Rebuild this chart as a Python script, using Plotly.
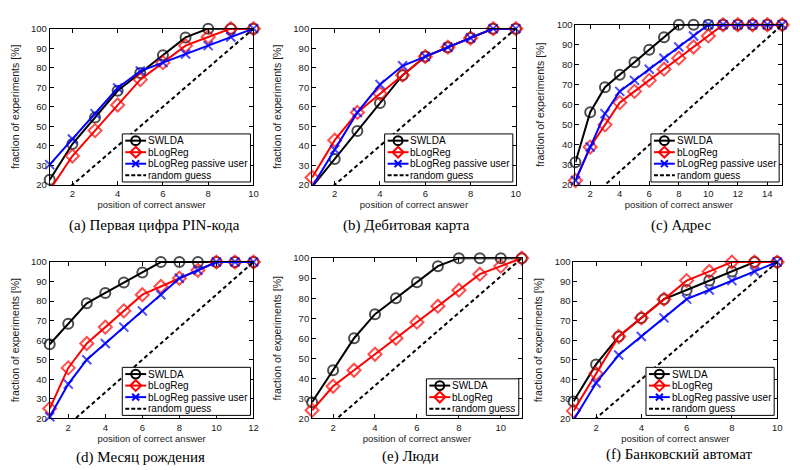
import plotly.graph_objects as go

# ---------------- data ----------------
# (a) Первая цифра PIN-кода
a_x = [1, 2, 3, 4, 5, 6, 7, 8, 9, 10]
a_swlda = [22.7, 40.9, 54.5, 68.2, 77.3, 86.4, 95.5, 100, 100, 100]
a_blogreg = [17.4, 34.8, 47.8, 60.9, 73.9, 82.6, 91.3, 95.7, 100, 100]
a_passive = [30.4, 43.5, 56.5, 69.6, 78.3, 82.6, 87.0, 91.3, 95.7, 100]
a_rand_x = [1, 10]
a_rand_y = [10, 100]

# (b) Дебитовая карта
b_x = [1, 2, 3, 4, 5, 6, 7, 8, 9, 10]
b_swlda = [19.0, 33.3, 47.6, 61.9, 76.2, 85.7, 90.5, 95.2, 100, 100]
b_blogreg = [23.8, 42.9, 57.1, 66.7, 76.2, 85.7, 90.5, 95.2, 100, 100]
b_passive = [19.0, 38.1, 57.1, 71.4, 81.0, 85.7, 90.5, 95.2, 100, 100]
b_rand_x = [1, 10]
b_rand_y = [10, 100]

# (c) Адрес
c_x = [1, 2, 3, 4, 5, 6, 7, 8, 9, 10, 11, 12, 13, 14, 15]
c_swlda = [31.3, 56.3, 68.8, 75.0, 81.3, 87.5, 93.8, 100, 100, 100, 100, 100, 100, 100, 100]
c_blogreg = [22.2, 38.9, 50.0, 61.1, 66.7, 72.2, 77.8, 83.3, 88.9, 94.4, 100, 100, 100, 100, 100]
c_passive = [22.2, 38.9, 55.6, 66.7, 72.2, 77.8, 83.3, 88.9, 94.4, 100, 100, 100, 100, 100, 100]
c_rand_x = [1, 15]
c_rand_y = [6.67, 100]

# (d) Месяц рождения
d_x = [1, 2, 3, 4, 5, 6, 7, 8, 9, 10, 11, 12]
d_swlda = [57.9, 68.4, 78.9, 84.2, 89.5, 94.7, 100, 100, 100, 100, 100, 100]
d_blogreg = [25.0, 45.8, 58.3, 66.7, 75.0, 83.3, 87.5, 91.7, 95.8, 100, 100, 100]
d_passive = [20.8, 37.5, 50.0, 58.3, 66.7, 75.0, 83.3, 91.7, 95.8, 100, 100, 100]
d_rand_x = [1, 12]
d_rand_y = [8.33, 100]

# (e) Люди
e_x = [1, 2, 3, 4, 5, 6, 7, 8, 9, 10, 11]
e_swlda = [28, 44, 60, 72, 80, 88, 96, 100, 100, 100, 100]
e_blogreg = [24, 36, 44, 52, 60, 68, 76, 84, 92, 96, 100]
e_rand_x = [1, 11]
e_rand_y = [9.09, 100]

# (f) Банковский автомат
f_x = [1, 2, 3, 4, 5, 6, 7, 8, 9, 10]
f_swlda = [28.6, 47.6, 61.9, 71.4, 81.0, 85.7, 90.5, 95.2, 100, 100]
f_blogreg = [23.8, 42.9, 61.9, 71.4, 81.0, 90.5, 95.2, 100, 100, 100]
f_passive = [19.0, 38.1, 52.4, 61.9, 71.4, 81.0, 85.7, 90.5, 95.2, 100]
f_rand_x = [1, 10]
f_rand_y = [10, 100]

captions = ["(a) Первая цифра PIN-кода", "(b) Дебитовая карта", "(c) Адрес",
            "(d) Месяц рождения", "(e) Люди", "(f) Банковский автомат"]
y_ticks = [20, 30, 40, 50, 60, 70, 80, 90, 100]
names = ["SWLDA", "bLogReg", "bLogReg passive user", "random guess"]

# ---------------- layout (pixel boxes of each panel) ----------------
W, H = 800, 470
# left, right, top, bottom in pixels
boxes = [(42, 247, 15, 175), (306, 511, 15, 175), (571, 779, 11, 175),
         (42, 247, 254, 414), (306, 517, 250, 414), (569, 774, 254, 414)]
cap_pos = [(147, 217), (401, 217), (677, 217), (133, 454), (405, 453), (675, 451)]

panels = [
    (a_x, a_swlda, a_blogreg, a_passive, a_rand_x, a_rand_y),
    (b_x, b_swlda, b_blogreg, b_passive, b_rand_x, b_rand_y),
    (c_x, c_swlda, c_blogreg, c_passive, c_rand_x, c_rand_y),
    (d_x, d_swlda, d_blogreg, d_passive, d_rand_x, d_rand_y),
    (e_x, e_swlda, e_blogreg, None, e_rand_x, e_rand_y),
    (f_x, f_swlda, f_blogreg, f_passive, f_rand_x, f_rand_y),
]

FONT = "Liberation Sans, Arial, sans-serif"
SERIF = "Liberation Serif, Times New Roman, serif"
BLACK, RED, BLUE = "#000000", "#ff0000", "#0000ff"

fig = go.Figure()
layout = dict(width=W, height=H, margin=dict(l=0, r=0, t=0, b=0),
              paper_bgcolor="white", plot_bgcolor="white", showlegend=False,
              font=dict(family=FONT, color="#1a1a1a"))
annotations = []
shapes = []


def px(xp):
    return xp / W


def py(yp):
    return 1 - yp / H


def sizes(vals, s):
    return [s if v >= 20 else 0 for v in vals]


def legend_box(l_ax, r_ax, b_ax, entries):
    """Compact MATLAB-style legend in the lower-right corner of a panel."""
    item_h = 11.8
    text_w = 104 if any(e[0] == names[2] for e in entries) else 68
    box_r = r_ax - 3
    box_b = b_ax - 3
    box_l = box_r - (25 + text_w)
    box_t = box_b - (len(entries) * item_h + 2)
    shapes.append(dict(type="rect", xref="paper", yref="paper",
                       x0=px(box_l), x1=px(box_r), y0=py(box_b), y1=py(box_t),
                       fillcolor="white", line=dict(color="black", width=1), layer="above"))
    for j, (name, color, symbol, dash) in enumerate(entries):
        yc = box_t + 1 + item_h * (j + 0.5)
        x0, x1 = box_l + 3, box_l + 24
        xc = (x0 + x1) / 2
        shapes.append(dict(type="line", xref="paper", yref="paper",
                           x0=px(x0), x1=px(x1), y0=py(yc), y1=py(yc),
                           line=dict(color=color, width=2, dash=dash), layer="above"))
        if symbol == "circle":
            rr = 4.5
            shapes.append(dict(type="circle", xref="paper", yref="paper",
                               x0=px(xc - rr), x1=px(xc + rr), y0=py(yc + rr), y1=py(yc - rr),
                               line=dict(color=color, width=2), layer="above"))
        elif symbol == "diamond":
            rr = 5.5
            path = "M{},{} L{},{} L{},{} L{},{} Z".format(
                px(xc), py(yc - rr), px(xc + rr), py(yc), px(xc), py(yc + rr), px(xc - rr), py(yc))
            shapes.append(dict(type="path", xref="paper", yref="paper", path=path,
                               line=dict(color=color, width=2), layer="above"))
        elif symbol == "x":
            rr = 3.5
            path = "M{},{} L{},{} M{},{} L{},{}".format(
                px(xc - rr), py(yc - rr), px(xc + rr), py(yc + rr),
                px(xc - rr), py(yc + rr), px(xc + rr), py(yc - rr))
            shapes.append(dict(type="path", xref="paper", yref="paper", path=path,
                               line=dict(color=color, width=2), layer="above"))
        annotations.append(dict(text=name, x=px(box_l + 24), y=py(yc), xref="paper", yref="paper",
                                xanchor="left", yanchor="middle", showarrow=False,
                                font=dict(family=FONT, size=10, color="black")))


for i, (xs, sw, bl, pa, rx, ry) in enumerate(panels):
    k = i + 1
    sfx = "" if k == 1 else str(k)
    xa, ya = "x" + sfx, "y" + sfx
    common = dict(xaxis=xa, yaxis=ya, mode="lines+markers", cliponaxis=False)
    entries = []
    fig.add_trace(go.Scatter(x=xs, y=sw, name=names[0],
                             line=dict(color=BLACK, width=2),
                             marker=dict(symbol="circle-open", size=sizes(sw, 10), color=BLACK,
                                         line=dict(width=2, color=BLACK)), **common))
    entries.append((names[0], BLACK, "circle", "solid"))
    fig.add_trace(go.Scatter(x=xs, y=bl, name=names[1],
                             line=dict(color=RED, width=2),
                             marker=dict(symbol="diamond-open", size=sizes(bl, 10), color=RED,
                                         line=dict(width=2, color=RED)), **common))
    entries.append((names[1], RED, "diamond", "solid"))
    if pa is not None:
        fig.add_trace(go.Scatter(x=xs, y=pa, name=names[2],
                                 line=dict(color=BLUE, width=2),
                                 marker=dict(symbol="x-thin-open", size=sizes(pa, 9), color=BLUE,
                                             line=dict(width=2, color=BLUE)), **common))
        entries.append((names[2], BLUE, "x", "solid"))
    fig.add_trace(go.Scatter(x=rx, y=ry, name=names[3], xaxis=xa, yaxis=ya,
                             mode="lines", line=dict(color=BLACK, width=2, dash="4px,3px")))
    entries.append((names[3], BLACK, None, "4px,2px"))

    l, r, t, b = boxes[i]
    nmax = xs[-1]
    layout["xaxis" + sfx] = dict(
        domain=[l / W, r / W], anchor=ya, range=[1, nmax],
        tickvals=[v for v in xs if v % 2 == 0],
        showline=True, linecolor="black", linewidth=1, mirror="ticks",
        ticks="inside", ticklen=4, tickcolor="black", showgrid=False, zeroline=False,
        tickfont=dict(size=9.5),
        title=dict(text="position of correct answer", font=dict(size=9.5), standoff=1))
    layout["yaxis" + sfx] = dict(
        domain=[1 - b / H, 1 - t / H], anchor=xa, range=[20, 100],
        tickvals=y_ticks,
        showline=True, linecolor="black", linewidth=1, mirror="ticks",
        ticks="inside", ticklen=4, tickcolor="black", showgrid=False, zeroline=False,
        tickfont=dict(size=9.5),
        title=dict(text="fraction of experiments [%]", font=dict(size=10.5), standoff=9))
    legend_box(l, r, b, entries)
    cx, cy = cap_pos[i]
    annotations.append(dict(text=captions[i], x=px(cx), y=py(cy), xref="paper", yref="paper",
                            xanchor="center", yanchor="middle", showarrow=False,
                            font=dict(family=SERIF, size=15, color="black")))

layout["annotations"] = annotations
layout["shapes"] = shapes
fig.update_layout(**layout)
fig.write_html("out.html")
